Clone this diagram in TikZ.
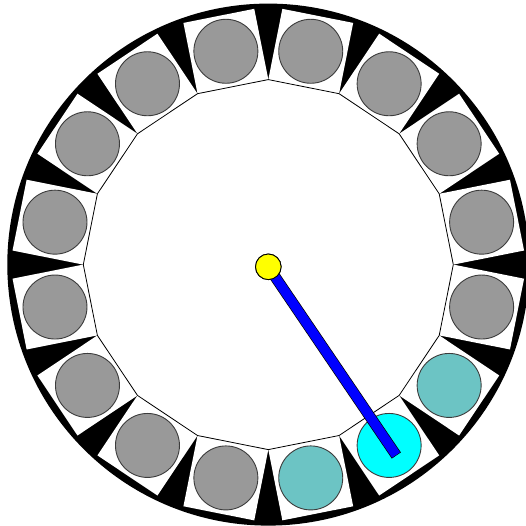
\documentclass[tikz,border=0pt]{standalone}
\usetikzlibrary{calc}
\definecolor{slotgray}{RGB}{153,153,153}
\definecolor{slotteal}{RGB}{108,196,196}
\definecolor{slotcyan}{RGB}{0,255,255}
\definecolor{handblue}{RGB}{0,0,255}
\definecolor{pivotyellow}{RGB}{255,255,0}
\definecolor{slotline}{RGB}{60,60,60}
\tikzset{
  slotsq/.style={fill=white},
  ball/.style={circle, draw=slotline, line width=0.9pt, minimum size=64pt, inner sep=0pt},
  pivotball/.style={circle, draw=black, line width=0.9pt, fill=pivotyellow, minimum size=25.6pt, inner sep=0pt}
}
\begin{document}
\begin{tikzpicture}[x=1pt,y=-1pt]
\useasboundingbox[fill=white] (0,0) rectangle (526,526);
\coordinate (O) at (268.3,264.6);
% black ring
\fill[black] (O) circle[radius=261pt];
% white square slots
\foreach \i in {0,...,15} {
  \pgfmathsetmacro\a{11.25+22.5*\i}
  \begin{scope}[shift={(O)}, rotate=\a]
    \fill[slotsq] (181.4,-36.1) rectangle (253.6,36.1);
  \end{scope}
}
% inner polygon
\draw[fill=white, line width=0.8pt] ($(O)+(0:185pt)$)
  \foreach \i in {1,...,15}{ -- ($(O)+(\i*22.5:185pt)$) } -- cycle;
% balls
\foreach \i in {0,...,15} {
  \pgfmathsetmacro\a{11.25+22.5*\i}
  \pgfmathtruncatemacro\k{\i}
  \def\col{slotgray}
  \ifnum\k=14 \def\col{slotteal}\fi
  \ifnum\k=12 \def\col{slotteal}\fi
  \ifnum\k=13 \def\col{slotcyan}\fi
  \begin{scope}[shift={(O)}, rotate=\a]
    \node[ball, fill=\col] (b\i) at (217.5,0) {};
  \end{scope}
}
% hand
\node[pivotball] (pivot) at (268.3,266.8) {};
\coordinate (handend) at (396,455);
\draw[line width=11pt, black, shorten >=-0.6pt] (pivot.center) -- (handend);
\draw[line width=9.6pt, handblue] (pivot.center) -- (handend);
\node[pivotball] at (pivot.center) {};
\end{tikzpicture}
\end{document}
